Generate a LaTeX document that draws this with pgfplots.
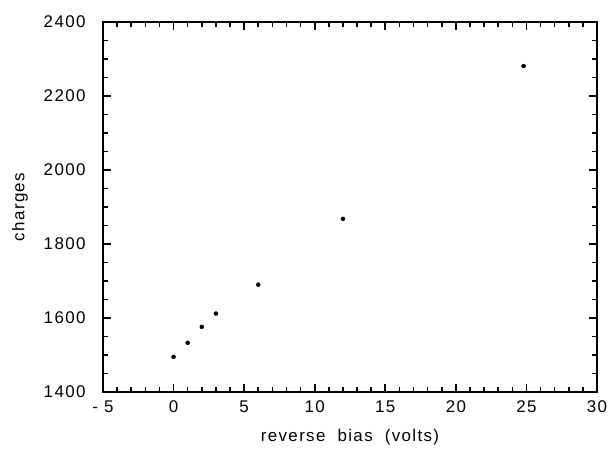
\documentclass[border=0pt]{standalone}
\usepackage{fontspec}
\setmainfont{Liberation Sans}[LetterSpace=8]
\usepackage{pgfplots}
\pgfplotsset{compat=1.18}
\begin{document}
\begin{tikzpicture}
\begin{axis}[
  scale only axis,
  width=494bp, height=370bp,
  xmin=-5, xmax=30, ymin=1400, ymax=2400,
  xtick={-5,0,5,10,15,20,25,30},
  xticklabels={- 5,0,5,10,15,20,25,30},
  ytick={1400,1600,1800,2000,2200,2400},
  minor x tick num=4,
  minor y tick num=3,
  tick align=inside,
  major tick length=8bp,
  minor tick length=5bp,
  axis line style={line width=2.2bp},
  every tick/.style={line width=1.6bp, black},
  ticklabel style={font=\fontsize{17}{17}\selectfont},
  /pgf/number format/assume math mode=true,
  /pgf/number format/1000 sep={},
  yticklabel style={xshift=-14bp},
  xticklabel style={yshift=-5bp},
  xlabel={reverse\ \ bias\ \ (volts)},
  ylabel={charges},
  label style={font=\fontsize{17}{17}\selectfont},
  xlabel style={at={(axis description cs:0.5,0)}, anchor=center, yshift=-45bp},
  ylabel style={at={(axis description cs:-0.168,0.5)}, anchor=center},
]
\addplot[only marks, mark=*, mark size=2bp, black] coordinates {
  (0,1495) (1,1533) (2,1576) (3,1612) (6,1690) (12,1868) (24.8,2281)
};
\end{axis}
\path (current axis.south west) ++(-103bp,-66bp) coordinate (bl);
\path (current axis.north east) ++(16bp,22bp) coordinate (tr);
\path (bl) rectangle (tr);
\end{tikzpicture}
\end{document}
